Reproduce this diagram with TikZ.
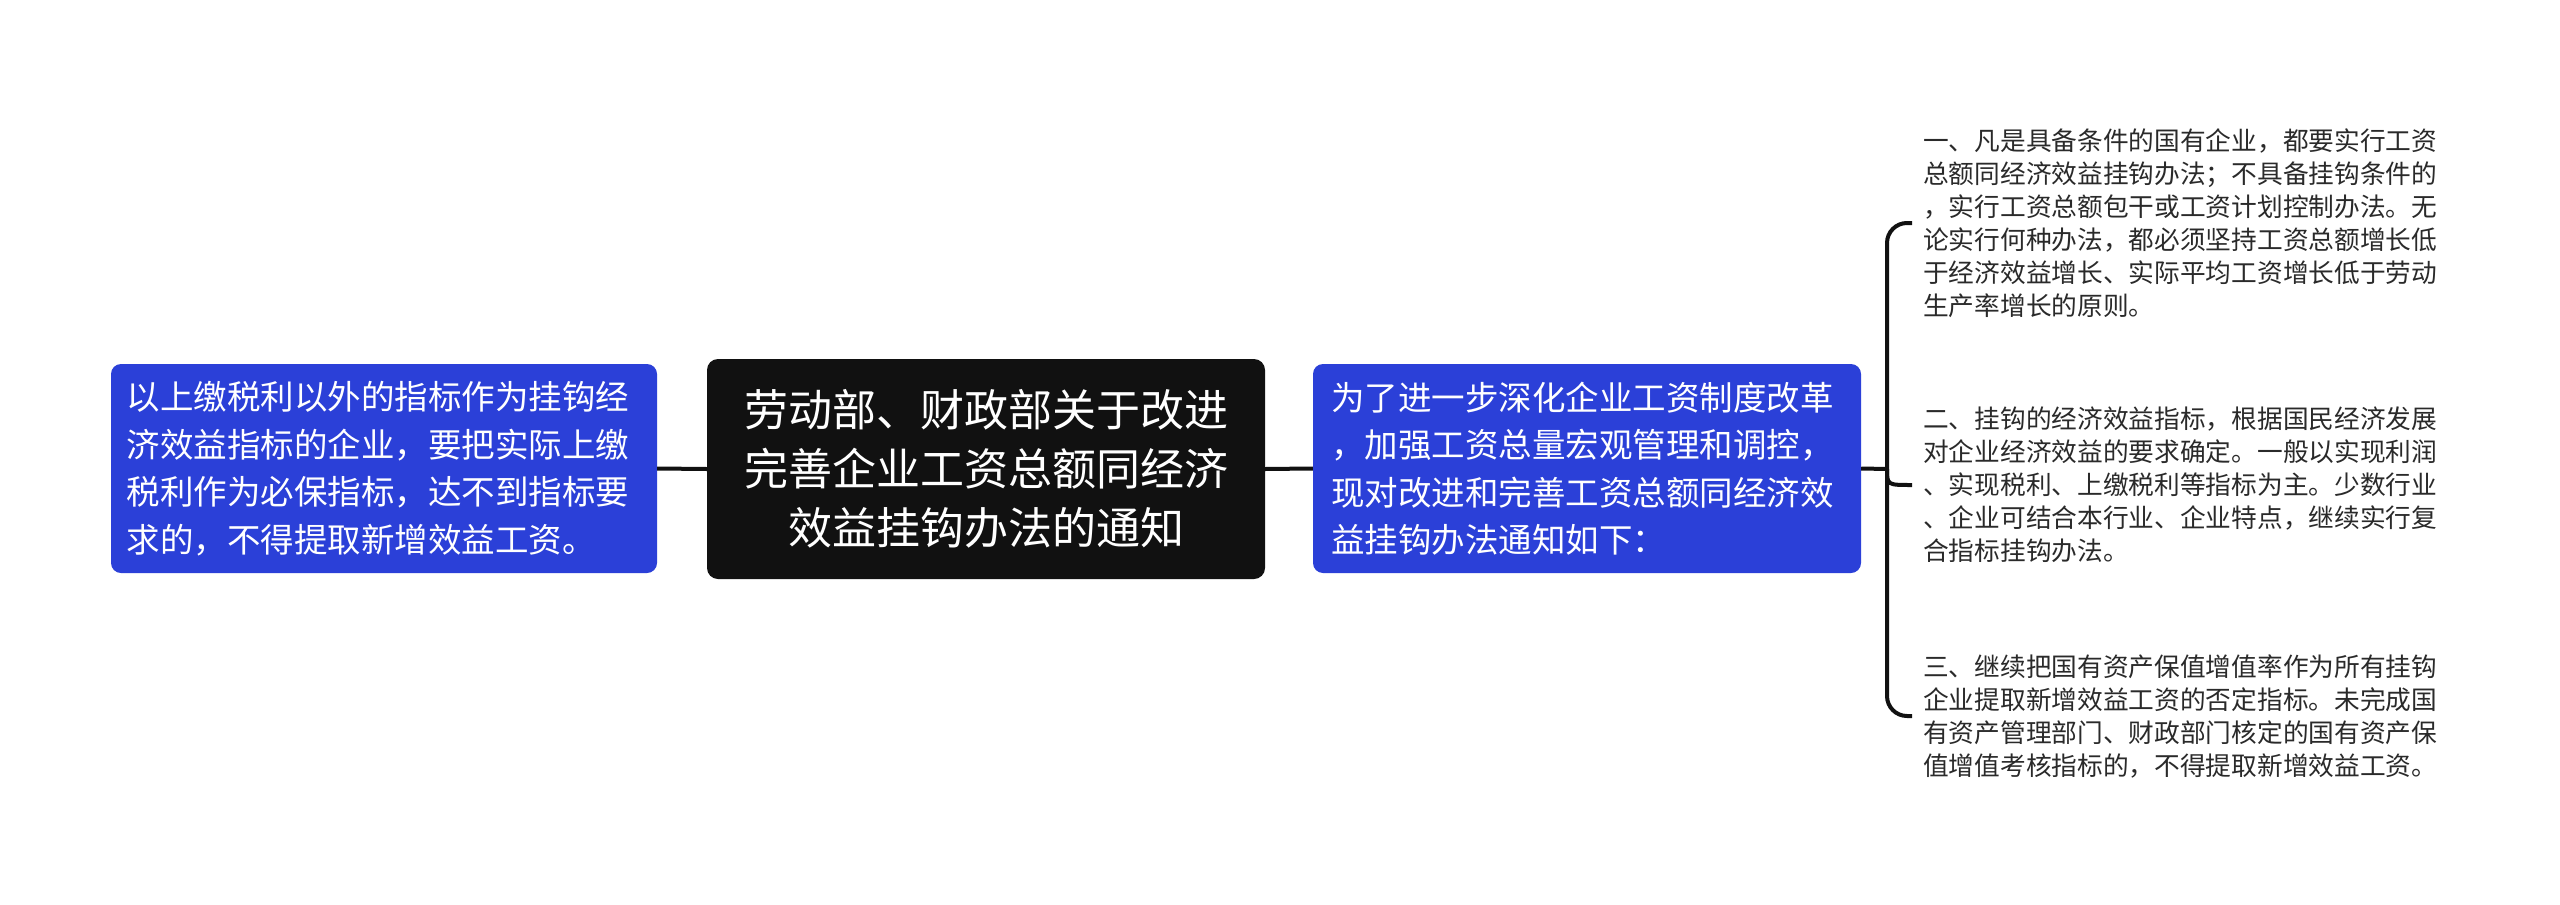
\documentclass[tikz,border=0pt]{standalone}
\usepackage{fontspec}
\newfontfamily\cjk{Noto Sans CJK SC}
\definecolor{nodeblue}{HTML}{2B40D8}
\definecolor{nodeblack}{HTML}{111111}
\definecolor{linecol}{HTML}{111111}
\definecolor{leaftext}{HTML}{2A2A2A}
\begin{document}
\begin{tikzpicture}[x=1pt,y=-1pt,
  conn/.style={draw=linecol,line width=4pt},
  mainbox/.style={fill=nodeblack,rounded corners=11pt,inner sep=0pt,text=white,
    minimum width=558pt,minimum height=220pt,align=center,text width=520pt,
    font=\cjk\fontsize{44}{59}\selectfont},
  bluebox/.style={fill=nodeblue,rounded corners=10pt,inner sep=0pt,text=white,
    minimum height=209pt,align=left,
    font=\cjk\fontsize{33.5}{47.5}\selectfont},
  leaf/.style={anchor=west,inner xsep=11pt,inner ysep=0pt,align=left,text width=520pt,
    text=leaftext,font=\cjk\fontsize{25.7}{33}\selectfont}
]
\useasboundingbox[fill=white] (0,0) rectangle (2560,905);

\node[mainbox] (C) at (986,469) {劳动部、财政部关于改进\\完善企业工资总额同经济\\效益挂钩办法的通知};
\node[bluebox,minimum width=546pt,text width=515pt] (L) at (384,468.5) {以上缴税利以外的指标作为挂钩经\\济效益指标的企业，要把实际上缴\\税利作为必保指标，达不到指标要\\求的，不得提取新增效益工资。};
\node[bluebox,minimum width=548pt,text width=512pt] (R) at (1587,468.5) {为了进一步深化企业工资制度改革\\，加强工资总量宏观管理和调控，\\现对改进和完善工资总额同经济效\\益挂钩办法通知如下：};

\node[leaf] (A1) at (1912,223) {一、凡是具备条件的国有企业，都要实行工资\\总额同经济效益挂钩办法；不具备挂钩条件的\\，实行工资总额包干或工资计划控制办法。无\\论实行何种办法，都必须坚持工资总额增长低\\于经济效益增长、实际平均工资增长低于劳动\\生产率增长的原则。};
\node[leaf] (A2) at (1912,485) {二、挂钩的经济效益指标，根据国民经济发展\\对企业经济效益的要求确定。一般以实现利润\\、实现税利、上缴税利等指标为主。少数行业\\、企业可结合本行业、企业特点，继续实行复\\合指标挂钩办法。};
\node[leaf] (A3) at (1912,716) {三、继续把国有资产保值增值率作为所有挂钩\\企业提取新增效益工资的否定指标。未完成国\\有资产管理部门、财政部门核定的国有资产保\\值增值考核指标的，不得提取新增效益工资。};

\coordinate (S) at (1887,469);

\draw[conn] (L.east) -- (C.west);
\draw[conn] (C.east) -- (R.west);
\draw[conn] (R.east) -- (S);
\draw[conn,rounded corners=20pt] (A1.west) -- (S |- A1.west) -- (S);
\draw[conn,rounded corners=20pt] (A3.west) -- (S |- A3.west) -- (S);
\draw[conn] (S) .. controls (1887,485) .. (A2.west);
\end{tikzpicture}
\end{document}
